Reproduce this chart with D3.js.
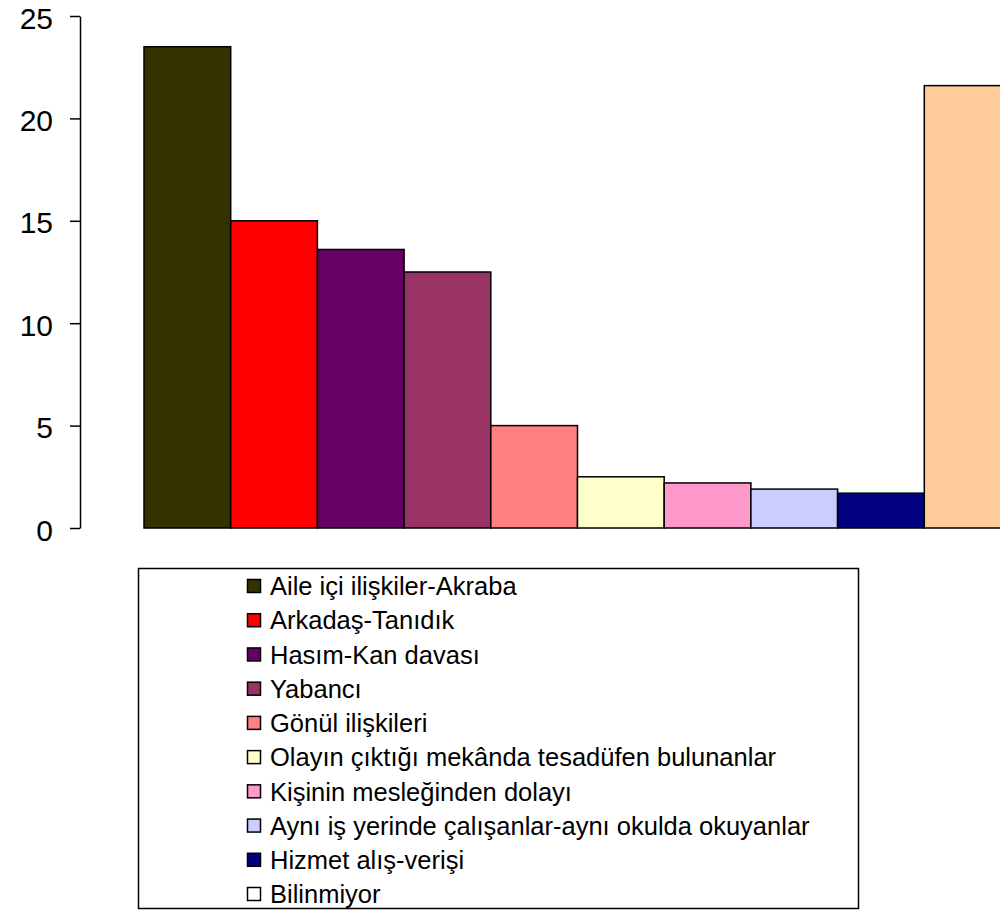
<!DOCTYPE html>
<html>
<head>
<meta charset="utf-8">
<script src="https://cdn.jsdelivr.net/npm/d3@7"></script>
<style>
  html, body { margin: 0; padding: 0; background: #fff; }
  svg { display: block; }
  text { font-family: Arial, "Liberation Sans", sans-serif; fill: #000; }
</style>
</head>
<body>
<svg id="chart" width="1000" height="922"></svg>
<script>
const categories = [
  "Aile içi ilişkiler-Akraba",
  "Arkadaş-Tanıdık",
  "Hasım-Kan davası",
  "Yabancı",
  "Gönül ilişkileri",
  "Olayın çıktığı mekânda tesadüfen bulunanlar",
  "Kişinin mesleğinden dolayı",
  "Aynı iş yerinde çalışanlar-aynı okulda okuyanlar",
  "Hizmet alış-verişi",
  "Bilinmiyor"
];
const values = [23.5, 15.0, 13.6, 12.5, 5.0, 2.5, 2.2, 1.9, 1.7, 21.6];
const barColors = ["#333300", "#FF0000", "#660066", "#993366", "#FF8080", "#FFFFCC", "#FF99CC", "#CCCCFF", "#000080", "#FFCC99"];
const legendColors = ["#333300", "#FF0000", "#660066", "#993366", "#FF8080", "#FFFFCC", "#FF99CC", "#CCCCFF", "#000080", "#FFFFFF"];
const yTicks = [0, 5, 10, 15, 20, 25];

const svg = d3.select("#chart");

const x = d3.scaleBand().domain(categories).range([144, 1011]).padding(0);
const y = d3.scaleLinear().domain([0, 25]).range([528, 16]);

// bars
svg.append("g").selectAll("rect")
  .data(categories)
  .join("rect")
  .attr("x", d => x(d))
  .attr("y", (d, i) => y(values[i]))
  .attr("width", x.bandwidth())
  .attr("height", (d, i) => y(0) - y(values[i]))
  .attr("fill", (d, i) => barColors[i])
  .attr("stroke", "#000")
  .attr("stroke-width", 1.5);

// y axis
const yAxis = d3.axisLeft(y).tickValues(yTicks).tickSize(10).tickSizeOuter(0).tickPadding(17);
const gy = svg.append("g").attr("transform", "translate(80,0)").call(yAxis);
gy.select(".domain").attr("stroke", "#000").attr("stroke-width", 1.5);
gy.selectAll(".tick line").attr("stroke", "#000").attr("stroke-width", 1.5);
gy.selectAll(".tick text")
  .attr("font-size", 30)
  .attr("dy", "0.4em")
  .attr("font-family", "Arial, 'Liberation Sans', sans-serif")
  .attr("fill", "#000");

// legend
const legend = svg.append("g");
legend.append("rect")
  .attr("x", 138.5).attr("y", 568.5)
  .attr("width", 720).attr("height", 340)
  .attr("fill", "#fff").attr("stroke", "#000").attr("stroke-width", 1.5);

const rowY = d3.scalePoint().domain(categories).range([586, 894]);

const items = legend.selectAll("g.item")
  .data(categories)
  .join("g")
  .attr("class", "item")
  .attr("transform", d => `translate(0,${rowY(d)})`);

items.append("rect")
  .attr("x", 247.5).attr("y", -6.5)
  .attr("width", 13).attr("height", 13)
  .attr("fill", (d, i) => legendColors[i])
  .attr("stroke", "#000").attr("stroke-width", 1.5);

items.append("text")
  .attr("x", 270)
  .attr("y", 0)
  .attr("dy", "0.36em")
  .attr("font-size", 25.5)
  .text(d => d);
</script>
</body>
</html>
